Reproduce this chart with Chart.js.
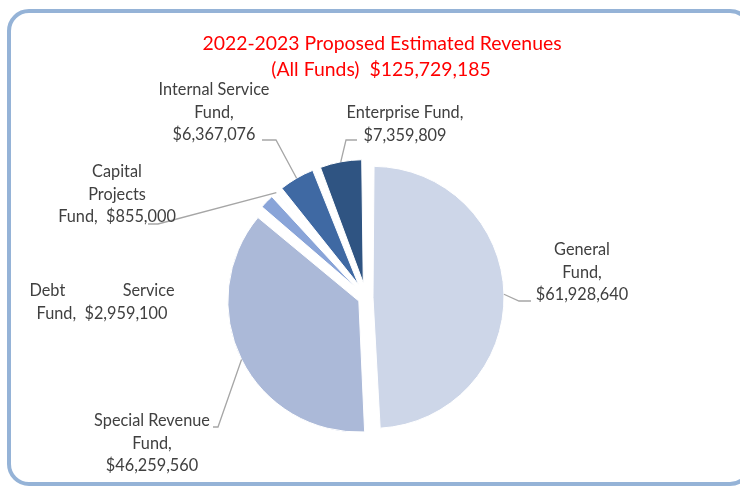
<!DOCTYPE html>
<html>
<head>
<meta charset="utf-8">
<script src="https://cdn.jsdelivr.net/npm/chart.js@4.4.0/dist/chart.umd.min.js"></script>
<style>
  html, body { margin: 0; padding: 0; background: #fff; }
  #wrap { position: relative; width: 740px; height: 487px; overflow: hidden; }
  #frame {
    position: absolute; left: 7px; top: 9px;
    width: 737px; height: 469px;
    border: 4px solid #95b3d7; border-radius: 22px;
  }
  #revenueChart { position: absolute; left: 0; top: 0; }
</style>
</head>
<body>
<div id="wrap">
  <div id="frame"></div>
  <canvas id="revenueChart" width="740" height="487"></canvas>
</div>
<script>
// Revenue by fund, 2022-2023 proposed
const categories = ['General Fund', 'Special Revenue Fund', 'Debt Service Fund', 'Capital Projects Fund', 'Internal Service Fund', 'Enterprise Fund'];
const revenues = [61928640, 46259560, 2959100, 855000, 6367076, 7359809];
const titleText = '2022-2023 Proposed Estimated Revenues';

// slice styling
const sliceColors = ['#cdd6e8', '#abb9d8', '#89a4d8', '#dce4f2', '#3f69a3', '#2f5482'];
const sliceShift = [7, 8, 15, 15, 15, 15];      // how far each slice is pulled out
const sliceRadius = [131, 131, 123, 123, 123, 123];

const labelFont = '16.3px Lato';
const labelColor = '#404040';
const leaderColor = '#a6a6a6';

// label boxes: centre x, first line y, optional leader elbow/end
const labelLayout = [
  { x: 582, y: 250, lines: ['General', 'Fund,', '{v}'], elbow: [519, 301], end: [531, 301] },
  { x: 152, y: 421, lines: ['Special Revenue', 'Fund,', '{v}'], elbow: [218, 427], end: [213, 427] },
  { x: 102, y: 291, width: 145, lines: [['Debt', 'Service'], 'Fund,  {v}'] },
  { x: 117, y: 172, lines: ['Capital', 'Projects', 'Fund,  {v}'], elbow: [158, 224], end: [148, 224] },
  { x: 214, y: 90, lines: ['Internal Service', 'Fund,', '{v}'], elbow: [276, 140], end: [262, 140] },
  { x: 405, y: 113, lines: ['Enterprise Fund,', '{v}'], elbow: [346, 140], end: [357, 140] }
];
const lineGap = 22.5;

const money = v => '$' + v.toLocaleString('en-US');
const total = revenues.reduce((a, b) => a + b, 0);

const pieDecor = {
  id: 'pieDecor',
  beforeDatasetsDraw(chart) {
    // small slices sit on a slightly smaller radius than the two big ones
    chart.getDatasetMeta(0).data.forEach((arc, i) => {
      const fix = 1 - Math.sin(Math.min(Math.PI, arc.circumference));
      arc.outerRadius = sliceRadius[i] - sliceShift[i] * fix;
    });
  },
  afterDraw(chart) {
    const ctx = chart.ctx;
    const arcs = chart.getDatasetMeta(0).data;
    ctx.save();

    // title
    ctx.fillStyle = '#ff0000';
    ctx.font = '19.4px Lato';
    ctx.textAlign = 'center';
    ctx.textBaseline = 'middle';
    ctx.fillText(titleText, 382, 44);
    ctx.fillText('(All Funds)  ' + money(total), 381, 70);

    // leader lines
    ctx.strokeStyle = leaderColor;
    ctx.lineWidth = 1.3;
    labelLayout.forEach((lab, i) => {
      if (!lab.elbow) return;
      const arc = arcs[i];
      const mid = (arc.startAngle + arc.endAngle) / 2;
      const cx = arc.x + Math.cos(mid) * sliceShift[i];
      const cy = arc.y + Math.sin(mid) * sliceShift[i];
      const sx = cx + Math.cos(mid) * sliceRadius[i];
      const sy = cy + Math.sin(mid) * sliceRadius[i];
      ctx.beginPath();
      ctx.moveTo(sx, sy);
      ctx.lineTo(lab.elbow[0], lab.elbow[1]);
      ctx.lineTo(lab.end[0], lab.end[1]);
      ctx.stroke();
    });

    // labels
    ctx.fillStyle = labelColor;
    ctx.font = labelFont;
    labelLayout.forEach((lab, i) => {
      const val = money(revenues[i]);
      lab.lines.forEach((ln, k) => {
        const y = lab.y + k * lineGap;
        if (Array.isArray(ln)) {
          ctx.textAlign = 'left';
          ctx.fillText(ln[0], lab.x - lab.width / 2, y);
          ctx.textAlign = 'right';
          ctx.fillText(ln[1], lab.x + lab.width / 2, y);
        } else {
          ctx.textAlign = 'center';
          ctx.fillText(ln.replace('{v}', val), lab.x, y);
        }
      });
    });
    ctx.restore();
  }
};

const ctx = document.getElementById('revenueChart').getContext('2d');
new Chart(ctx, {
  type: 'pie',
  data: {
    labels: categories,
    datasets: [{
      data: revenues,
      backgroundColor: sliceColors,
      borderColor: '#ffffff',
      borderWidth: 1,
      offset: sliceShift.map(s => s * 4),
      hoverOffset: 0
    }]
  },
  options: {
    responsive: false,
    animation: false,
    events: [],
    radius: 131,
    layout: { padding: { left: 100, right: 108, top: 120, bottom: 12 } },
    plugins: {
      legend: { display: false },
      tooltip: { enabled: false },
      title: { display: false }
    }
  },
  plugins: [pieDecor]
});
</script>
</body>
</html>
